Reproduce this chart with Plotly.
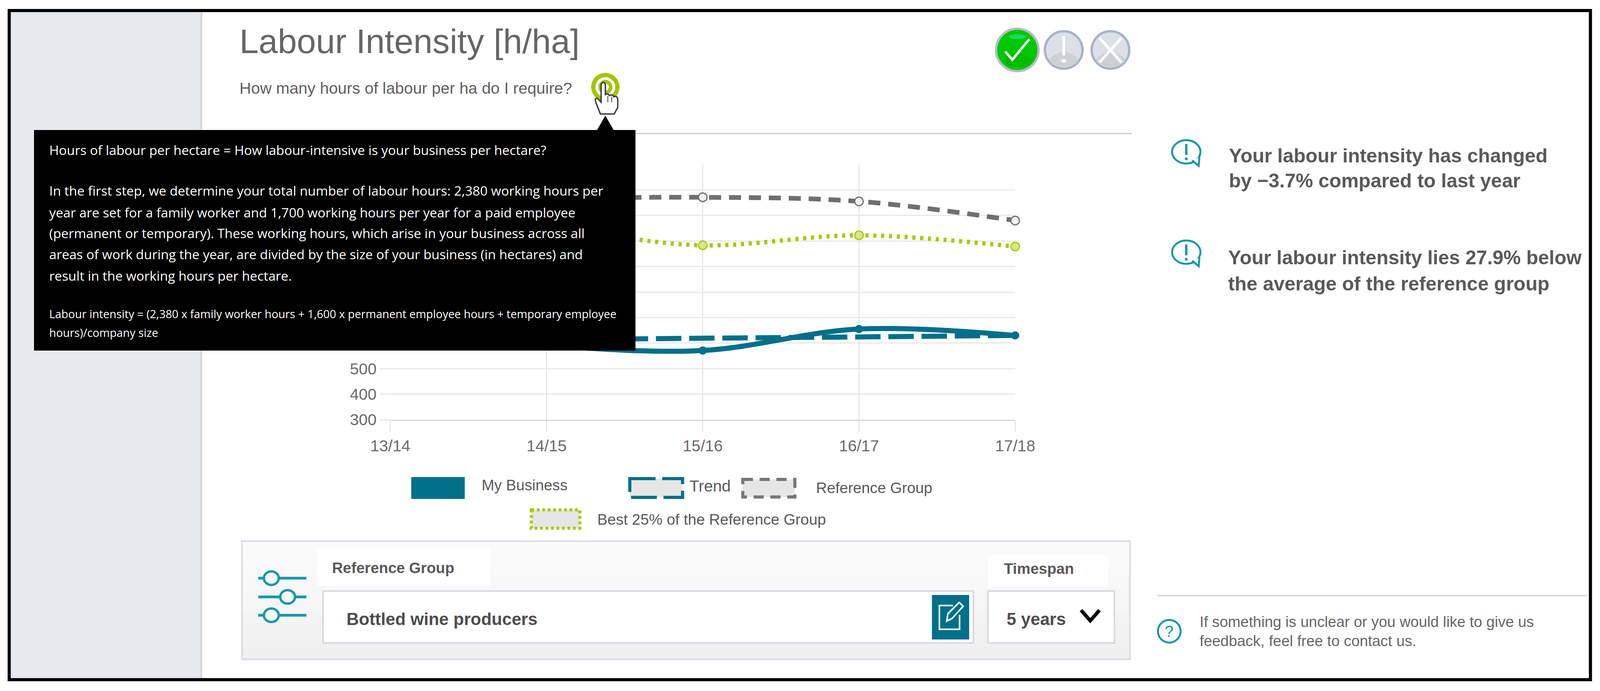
import plotly.graph_objects as go

# ---- data ----
seasons = ["13/14", "14/15", "15/16", "16/17", "17/18"]
my_business = [640, 590, 571, 655, 630]
trend = [606, 613, 619, 624, 630]
reference_group = [1150, 1165, 1171, 1155, 1080]
best_25 = [1030, 1045, 983, 1022, 978]
y_ticks = [300, 400, 500, 600, 700, 800, 900, 1000, 1100, 1200, 1300]
y_tick_labels = ["300", "400", "500", "", "", "", "", "", "", "", ""]  # the rest sit behind the tooltip

W, H = 4517, 1770
ROUND = 0.907  # keeps circles round in the page's actual aspect
TEAL = "#00708a"
ICON = "#1697a8"
GREY_T = "#595959"
SANS = "Liberation Sans"


def fx(x):
    return x / W


def fy(y):
    return 1 - y / H


shapes, notes = [], []


def rect(x0, y0, x1, y1, fill=None, line=None, lw=0, dash=None, layer="below"):
    shapes.append(dict(type="rect", xref="paper", yref="paper", x0=fx(x0), x1=fx(x1), y0=fy(y0), y1=fy(y1),
                       fillcolor=fill or "rgba(0,0,0,0)", layer=layer,
                       line=dict(color=line or "rgba(0,0,0,0)", width=lw, dash=dash or "solid")))


def ell(cx, cy, rx, ry, fill=None, line=None, lw=0, layer="above"):
    ry = ry * ROUND
    shapes.append(dict(type="circle", xref="paper", yref="paper", x0=fx(cx - rx), x1=fx(cx + rx),
                       y0=fy(cy + ry), y1=fy(cy - ry), fillcolor=fill or "rgba(0,0,0,0)", layer=layer,
                       line=dict(color=line or "rgba(0,0,0,0)", width=lw)))


def seg(x0, y0, x1, y1, color, lw, layer="above"):
    shapes.append(dict(type="line", xref="paper", yref="paper", x0=fx(x0), x1=fx(x1), y0=fy(y0), y1=fy(y1),
                       layer=layer, line=dict(color=color, width=lw)))


def path(cmds, fill=None, line=None, lw=0, layer="above"):
    out = []
    for c in cmds:
        op, nums = c[0], c[1:]
        pts = " ".join(f"{fx(nums[i]):.6f},{fy(nums[i + 1]):.6f}" for i in range(0, len(nums), 2))
        out.append(op + " " + pts if pts else op)
    shapes.append(dict(type="path", xref="paper", yref="paper", path=" ".join(out), layer=layer,
                       fillcolor=fill or "rgba(0,0,0,0)",
                       line=dict(color=line or "rgba(0,0,0,0)", width=lw)))


def text(x, y, s, size, color=GREY_T, bold=False, family=SANS, anchor="left"):
    notes.append(dict(xref="paper", yref="paper", x=fx(x), y=fy(y), text=f"<b>{s}</b>" if bold else s,
                      showarrow=False, xanchor=anchor, yanchor="middle", borderpad=0, borderwidth=0,
                      font=dict(family=family, size=size, color=color)))


# ---- page furniture ----
rect(30, 29, 567, 1737, fill="#e6e9ed")
rect(566, 29, 571, 1737, fill="#d3d6db")
seg(571, 342, 3195, 342, "#c9c9c9", 3)
rect(26, 27, 4490, 1741, line="#000000", lw=8, layer="above")

# heading
text(676, 106, "Labour Intensity [h/ha]", 88, color="#666666")
text(676, 226, "How many hours of labour per ha do I require?", 41.2, color="#5f5f5f")

# help target + hand cursor
ell(1709, 223, 40, 40, fill="#a4c400")
ell(1709, 223, 28, 28, fill="#ffffff")
ell(1709, 223, 20, 20, fill="#a4c400")
ell(1709, 223, 10, 10, fill="#ffffff")
path([("M", 1695, 292), ("L", 1682, 262), ("Q", 1678, 250, 1687, 252), ("L", 1697, 262), ("L", 1697, 216),
      ("Q", 1703, 206, 1709, 216), ("L", 1709, 242), ("Q", 1716, 238, 1721, 245), ("Q", 1728, 240, 1733, 248),
      ("Q", 1741, 244, 1744, 253), ("L", 1744, 275), ("L", 1734, 292), ("Z",)],
     fill="#ffffff", line="#3a3a4a", lw=3.5)
seg(1716, 246, 1716, 262, "#3a3a4a", 2)
seg(1727, 248, 1727, 262, "#3a3a4a", 2)

# status icons
ell(2872, 128, 60, 60, fill="#00c800", line="#b8bccb", lw=6)
path([("M", 2830, 153), ("Q", 2872, 120, 2914, 153), ("C", 2905, 180, 2839, 180, 2830, 153), ("Z",)], fill="#00bb00")
ell(2872, 94, 24, 7, fill="#1ed860")
path([("M", 2838, 132), ("L", 2858, 153), ("L", 2906, 100)], line="#ffffff", lw=6)
for cx in (3003, 3135):
    ell(cx, 128, 53, 53, fill="#dde1e7", line="#a9b2c4", lw=6)
    path([("M", cx - 42, 153), ("Q", cx, 112, cx + 42, 153), ("C", cx + 32, 178, cx - 32, 178, cx - 42, 153),
          ("Z",)], fill="#cdd0d4")
seg(3003, 92, 3003, 142, "#ffffff", 7)
ell(3003, 156, 7, 5, fill="#ffffff")
seg(3104, 97, 3166, 160, "#ffffff", 7)
seg(3166, 97, 3104, 160, "#ffffff", 7)

# legend (hand laid out in the original page)
rect(1161, 1222, 1312, 1278, fill=TEAL)
text(1360, 1242, "My Business", 38.8)
rect(1778, 1226, 1927, 1274, fill="#e6e6e6", line=TEAL, lw=8, dash="66px,17px")
text(1946, 1245, "Trend", 41)
rect(2097, 1228, 2244, 1273, fill="#e6e6e6", line="#777777", lw=8, dash="26px,17px")
text(2304, 1249, "Reference Group", 38.8)
rect(1500, 1306, 1637, 1353, fill="#e6e6e6", line="#a9c800", lw=8, dash="7px,7px")
text(1686, 1330, "Best 25% of the Reference Group", 39)

# control panel
bands = ["#fbfbfb", "#fafafa", "#f9f9f9", "#f8f8f8", "#f7f7f7", "#f6f6f6", "#f4f4f4", "#f2f2f2", "#f1f1f1", "#f0f0f0"]
for i, c in enumerate(bands):
    rect(683, 1386 + i * 30.3, 3190, 1386 + (i + 1) * 30.3, fill=c)
rect(683, 1386, 3190, 1689, line="#d8dde3", lw=4)
rect(895, 1403, 1384, 1500, fill="#ffffff")
rect(2789, 1420, 3129, 1505, fill="#ffffff")
text(937, 1454, "Reference Group", 38.6, bold=True)
text(2834, 1456, "Timespan", 38.6, bold=True)
rect(912, 1514, 2748, 1647, fill="#ffffff", line="#d5dae0", lw=4)
text(978, 1585, "Bottled wine producers", 44, bold=True, color="#4d4d4d")
rect(2631, 1524, 2736, 1638, fill=TEAL)
path([("M", 2690, 1551), ("L", 2652, 1551), ("L", 2652, 1612), ("L", 2709, 1612), ("L", 2709, 1575)], line="#ffffff", lw=4)
path([("M", 2673, 1591), ("L", 2676, 1572), ("L", 2708, 1543), ("L", 2719, 1553), ("L", 2688, 1584), ("Z",)],
     line="#ffffff", lw=4)
rect(2789, 1514, 3146, 1647, fill="#ffffff", line="#d5dae0", lw=4)
text(2842, 1585, "5 years", 44, bold=True, color="#4d4d4d")
path([("M", 3052, 1563), ("L", 3078, 1590), ("L", 3104, 1563)], line="#000000", lw=9)

# slider glyph
for ly, lx in ((1481, 766), (1529, 812), (1576, 766)):
    seg(729, ly, 865, ly, ICON, 7)
    ell(lx, ly, 21, 19, fill="#f8f8f8", line=ICON, lw=6)

# right-hand notes
for by in (389, 646):
    ell(3349, by, 40, 33, fill="#ffffff", line=ICON, lw=5)
    path([("M", 3366, by + 22), ("L", 3384, by + 36), ("L", 3386, by + 14)], fill="#ffffff", line=ICON, lw=5)
    seg(3349, by - 20, 3349, by + 8, ICON, 6)
    ell(3349, by + 18, 4, 4, fill=ICON)
text(3469, 399, "Your labour intensity has changed", 50, bold=True)
text(3469, 463, "by \u22123.7% compared to last year", 50, bold=True)
text(3467, 660, "Your labour intensity lies 27.9% below", 50, bold=True)
text(3467, 727, "the average of the reference group", 50, bold=True)
seg(3267, 1526, 4481, 1526, "#d0d0d0", 3)
ell(3301, 1617, 32, 32, fill="#ffffff", line=ICON, lw=5)
text(3301, 1617, "?", 40, color=ICON, anchor="center")
text(3387, 1592, "If something is unclear or you would like to give us", 38.4, color="#666666")
text(3387, 1641, "feedback, feel free to contact us.", 38.4, color="#666666")

# tooltip
path([("M", 1685, 334), ("L", 1709, 296), ("L", 1733, 334), ("Z",)], fill="#000000")
rect(96, 333, 1794, 898, fill="#000000", layer="above")
TIP = "Open Sans"
for y, s, size in [
    (384, "Hours of labour per hectare = How labour-intensive is your business per hectare?", 33.7),
    (488, "In the first step, we determine your total number of labour hours: 2,380 working hours per", 33.7),
    (544, "year are set for a family worker and 1,700 working hours per year for a paid employee", 33.7),
    (597, "(permanent or temporary). These working hours, which arise in your business across all", 33.7),
    (651, "areas of work during the year, are divided by the size of your business (in hectares) and", 33.7),
    (706, "result in the working hours per hectare.", 33.7),
    (804, "Labour intensity = (2,380 x family worker hours + 1,600 x permanent employee hours + temporary employee", 28.8),
    (852, "hours)/company size", 28.8),
]:
    text(139, y, s, size, color="#ffffff", family=TIP)

# ---- chart ----
fig = go.Figure()
fig.add_trace(go.Scatter(x=seasons, y=best_25, name="Best 25% of the Reference Group", mode="lines+markers",
                         line=dict(color="#a9c800", width=11, dash="8px,12px", shape="spline"),
                         marker=dict(size=22, color="#d9e48a", line=dict(color="#a9c800", width=3)), cliponaxis=False))
fig.add_trace(go.Scatter(x=seasons, y=reference_group, name="Reference Group", mode="lines+markers",
                         line=dict(color="#6f6f6f", width=12, dash="31px,20px", shape="spline"),
                         marker=dict(size=22, color="#f0f0f0", line=dict(color="#6f6f6f", width=3)), cliponaxis=False))
fig.add_trace(go.Scatter(x=seasons, y=trend, name="Trend", mode="lines",
                         line=dict(color=TEAL, width=13, dash="65px,20px", shape="spline"), cliponaxis=False))
fig.add_trace(go.Scatter(x=seasons, y=my_business, name="My Business", mode="lines+markers",
                         line=dict(color=TEAL, width=13, shape="spline"),
                         marker=dict(size=21, color=TEAL), cliponaxis=False))

fig.update_layout(
    autosize=True, margin=dict(l=0, r=0, t=0, b=0, pad=0, autoexpand=False), showlegend=False,
    paper_bgcolor="#ffffff", plot_bgcolor="rgba(0,0,0,0)",
    shapes=shapes, annotations=notes,
    xaxis=dict(domain=[fx(1102), fx(2866)], type="category", categoryorder="array", categoryarray=seasons,
               range=[0, 4], showgrid=True, gridcolor="#dedede", gridwidth=2, ticks="outside", ticklen=29,
               tickwidth=2, tickcolor="#dedede", showline=True, linecolor="#d8d8d8", linewidth=3, zeroline=False,
               tickfont=dict(family=SANS, size=41, color="#6a6a6a")),
    yaxis=dict(domain=[fy(1075), fy(421)], range=[300, 1300], tickvals=y_ticks, ticktext=y_tick_labels,
               showgrid=True, gridcolor="#e8e8e8",
               gridwidth=3, ticks="outside", ticklen=26, tickwidth=3, tickcolor="#e8e8e8", zeroline=False,
               tickfont=dict(family=SANS, size=41, color="#6a6a6a")),
)
fig.write_html("out.html", config=dict(displayModeBar=False, responsive=True),
               default_width="100vw", default_height="100vh",
               post_script="document.body.style.margin='0';document.body.style.overflow='hidden';")
